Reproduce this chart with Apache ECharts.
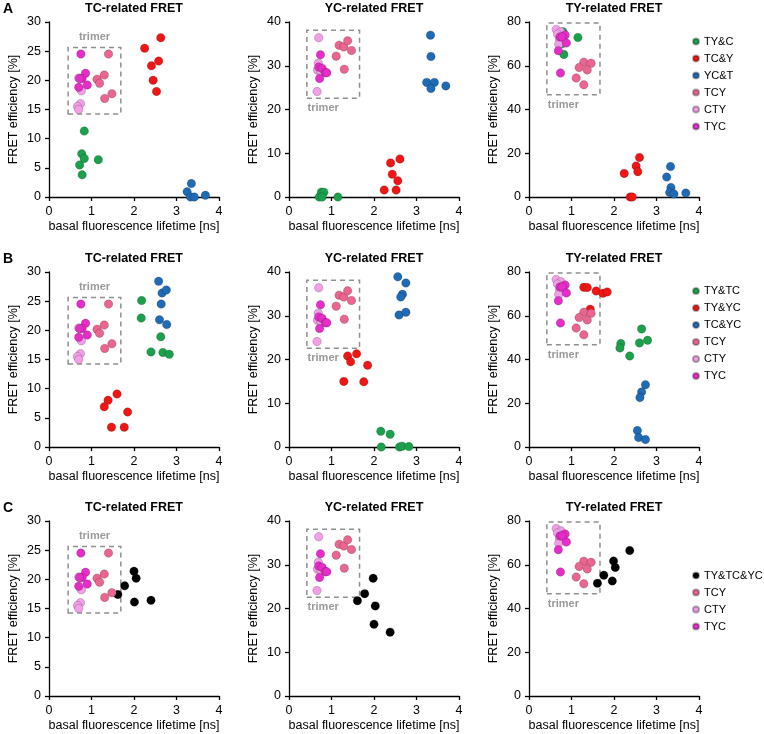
<!DOCTYPE html>
<html><head><meta charset="utf-8">
<script src="https://cdn.jsdelivr.net/npm/echarts@6/dist/echarts.min.js"></script>
<style>html,body{margin:0;padding:0;background:#fff}#c{width:764px;height:734px}</style>
</head><body><div id="c"></div>
<script>
// ---------- data ----------
const xTicks = [0, 1, 2, 3, 4];
const panelTitles = ['TC-related FRET', 'YC-related FRET', 'TY-related FRET'];
const rowLetters = ['A', 'B', 'C'];
const yMaxByPanel = [30, 40, 80];
const yStepByPanel = [5, 10, 20];

// trimer data (shared by all rows)
const tcTCY = [[1.40,24.5],[1.13,20.2],[1.30,20.9],[1.19,19.5],[1.48,17.7],[1.31,16.9]];
const tcCTY = [[0.70,20.4],[0.76,18.2],[0.74,16.0],[0.67,15.5],[0.70,15.0]];
const tcTYC = [[0.75,24.5],[0.86,21.2],[0.78,20.3],[0.72,20.3],[0.90,19.2],[0.70,18.8]];

const ycTCY = [[1.18,34.7],[1.29,34.3],[1.38,35.7],[1.47,33.5],[1.11,32.2],[1.30,29.2]];
const ycCTY = [[0.70,36.4],[0.69,30.6],[0.67,29.0],[0.75,28.7],[0.66,24.1]];
const ycTYC = [[0.74,32.5],[0.70,29.7],[0.78,29.4],[0.72,27.1],[0.86,28.4],[0.89,28.4]];

const tyTCY = [[1.29,61.6],[1.46,61.1],[1.18,59.2],[1.37,58.1],[1.11,54.4],[1.29,51.3]];
const tyCTY = [[0.64,76.6],[0.75,75.5],[0.67,74.5],[0.72,72.0],[0.70,69.8]];
const tyTYC = [[0.85,74.1],[0.73,73.2],[0.78,73.2],[0.88,70.4],[0.69,66.9],[0.74,56.7]];

// row A: pairs
const tcA_TYandC = [[0.83,11.3],[0.77,7.4],[0.83,6.6],[1.16,6.4],[0.72,5.5],[0.78,3.8]];
const tcA_TCandY = [[2.25,25.5],[2.63,27.3],[2.41,22.5],[2.58,23.3],[2.45,20.0],[2.53,18.1]];
const tcA_YCandT = [[3.35,2.3],[3.25,0.9],[3.33,0.0],[3.42,0.0],[3.68,0.3]];

const ycA_TYandC = [[0.71,0.0],[0.76,1.1],[0.82,1.1],[0.78,0.0],[1.15,0.0]];
const ycA_TCandY = [[2.24,1.6],[2.39,7.8],[2.43,5.2],[2.61,8.7],[2.56,3.7],[2.52,1.6]];
const ycA_YCandT = [[3.33,37.0],[3.34,32.1],[3.24,26.2],[3.42,26.2],[3.34,24.8],[3.69,25.4]];

const tyA_TYandC = [[0.80,75.5],[1.15,72.9],[0.79,70.2],[0.82,65.2],[0.74,73.0]];
const tyA_TCandY = [[2.24,10.8],[2.60,18.1],[2.52,14.2],[2.56,11.6],[2.38,0.0],[2.43,0.0]];
const tyA_YCandT = [[3.33,13.9],[3.24,9.1],[3.34,4.3],[3.31,2.1],[3.41,1.4],[3.69,1.8]];

// row B: pairs
const tcB_TYandTC = [[2.18,25.1],[2.17,22.1],[2.63,18.9],[2.40,16.3],[2.68,16.2],[2.83,15.9]];
const tcB_TYandYC = [[1.60,9.1],[1.39,8.0],[1.30,6.9],[1.85,6.0],[1.47,3.4],[1.77,3.4]];
const tcB_TCandYC = [[2.58,28.4],[2.66,26.4],[2.76,26.9],[2.64,24.5],[2.60,21.8],[2.77,21.0]];

const ycB_TYandTC = [[2.16,3.6],[2.38,2.9],[2.17,0.0],[2.60,0.0],[2.66,0.2],[2.82,0.1]];
const ycB_TYandYC = [[1.38,20.8],[1.59,21.3],[1.45,19.5],[1.85,18.7],[1.29,15.0],[1.76,14.9]];
const ycB_TCandYC = [[2.56,38.9],[2.75,37.5],[2.67,34.9],[2.63,34.3],[2.59,30.2],[2.75,30.8]];

const tyB_TYandTC = [[2.65,54.0],[2.79,48.8],[2.60,47.6],[2.16,47.3],[2.14,45.3],[2.37,41.6]];
const tyB_TYandYC = [[1.29,73.0],[1.37,72.9],[1.58,71.3],[1.74,70.3],[1.84,70.9],[1.44,63.0]];
const tyB_TCandYC = [[2.74,28.5],[2.65,25.2],[2.61,22.6],[2.55,7.5],[2.58,4.3],[2.74,3.4]];

// row C: all three
const tcC_All = [[2.00,21.4],[2.05,20.2],[1.78,18.9],[1.62,17.4],[2.01,16.1],[2.40,16.4]];
const ycC_All = [[1.98,26.9],[1.78,23.4],[1.61,21.8],[2.03,20.6],[2.00,16.4],[2.38,14.6]];
const tyC_All = [[2.37,66.5],[1.99,61.7],[2.03,58.8],[1.76,55.2],[1.96,52.6],[1.61,51.5]];

const rowPairNames = [['TY&C','TC&Y','YC&T'], ['TY&TC','TY&YC','TC&YC'], ['TY&TC&YC']];
const rowPairData = [
  [[tcA_TYandC, tcA_TCandY, tcA_YCandT], [ycA_TYandC, ycA_TCandY, ycA_YCandT], [tyA_TYandC, tyA_TCandY, tyA_YCandT]],
  [[tcB_TYandTC, tcB_TYandYC, tcB_TCandYC], [ycB_TYandTC, ycB_TYandYC, ycB_TCandYC], [tyB_TYandTC, tyB_TYandYC, tyB_TCandYC]],
  [[tcC_All], [ycC_All], [tyC_All]]
];
const trimerNames = ['TCY', 'CTY', 'TYC'];
const trimerData = [[tcTCY, tcCTY, tcTYC], [ycTCY, ycCTY, ycTYC], [tyTCY, tyCTY, tyTYC]];
const trimerBox = [[[0.45,14.25],[1.69,25.65]], [[0.42,22.6],[1.66,38.1]], [[0.42,46.8],[1.67,79.5]]];

// ---------- styling ----------
const FONT = '"Liberation Sans", Arial, sans-serif';
const colorOf = {
  'TY&C':'#1ba14c','TC&Y':'#f01616','YC&T':'#1f6bb5',
  'TY&TC':'#1ba14c','TY&YC':'#f01616','TC&YC':'#1f6bb5',
  'TY&TC&YC':'#000000',
  'TCY':'#ea6690','CTY':'#f29ee8','TYC':'#e62dc8'
};
const colLeft = [49, 289, 529];
const rowTop = [22, 272, 521];
const GW = 170, GH = 175;

const grid = [], xAxis = [], yAxis = [], series = [], title = [];
let gi = 0;
for (let r = 0; r < 3; r++) {
  title.push({text: rowLetters[r], left: 3, top: rowTop[r] - 20, padding: 0,
    textStyle: {fontFamily: FONT, fontSize: 14, fontWeight: 'bold', color: '#000'}});
  for (let c = 0; c < 3; c++) {
    grid.push({left: colLeft[c], top: rowTop[r], width: GW, height: GH});
    title.push({text: panelTitles[c], left: colLeft[c] + GW / 2, top: rowTop[r] - 20, padding: 0,
      textAlign: 'center',
      textStyle: {fontFamily: FONT, fontSize: 12.5, fontWeight: 'bold', color: '#000'}});
    const axLine = {show: true, onZero: false, lineStyle: {color: '#000', width: 1.3}};
    xAxis.push({gridIndex: gi, type: 'value', min: xTicks[0], max: xTicks[xTicks.length - 1], interval: 1,
      axisLine: axLine, axisTick: {show: true, length: 4, lineStyle: {color: '#000', width: 1.3}},
      splitLine: {show: false},
      axisLabel: {margin: 8, fontFamily: FONT, fontSize: 12.5, color: '#000'},
      name: 'basal fluorescence lifetime [ns]', nameLocation: 'middle', nameGap: 23,
      nameTextStyle: {fontFamily: FONT, fontSize: 12.5, color: '#000'}});
    yAxis.push({gridIndex: gi, type: 'value', min: 0, max: yMaxByPanel[c], interval: yStepByPanel[c],
      axisLine: axLine, axisTick: {show: true, length: 4, lineStyle: {color: '#000', width: 1.3}},
      splitLine: {show: false},
      axisLabel: {margin: 8, fontFamily: FONT, fontSize: 12.5, color: '#000'},
      name: 'FRET efficiency [%]', nameLocation: 'middle', nameGap: 29,
      nameTextStyle: {fontFamily: FONT, fontSize: 12.5, color: '#000'}});
    const names = rowPairNames[r].concat(trimerNames);
    const datas = rowPairData[r][c].concat(trimerData[c]);
    names.forEach((nm, k) => {
      const s = {
        type: 'scatter', name: nm, xAxisIndex: gi, yAxisIndex: gi,
        data: datas[k], symbol: 'circle', symbolSize: 8.5,
        itemStyle: {color: colorOf[nm], borderColor: 'rgba(0,0,0,0.3)', borderWidth: 0.6, opacity: 1},
        emphasis: {disabled: true}, animation: false
      };
      if (k === 0) {
        s.markArea = {
          silent: true,
          itemStyle: {color: 'rgba(0,0,0,0)', borderColor: '#8f8f8f', borderWidth: 1.5, borderType: [5, 4]},
          label: {show: true, formatter: 'trimer', position: c === 0 ? 'top' : 'bottom',
            distance: 4, offset: c === 0 ? [0, 0] : [-10, 0],
            fontFamily: FONT, fontSize: 11, fontWeight: 'bold', color: '#999'},
          data: [[{coord: trimerBox[c][0]}, {coord: trimerBox[c][1]}]]
        };
      }
      series.push(s);
    });
    gi++;
  }
}

const legendTops = [33, 282.5, 567];
const legend = legendTops.map((t, r) => ({
  data: rowPairNames[r].concat(trimerNames).map(n => ({name: n, icon: 'circle'})),
  orient: 'vertical', left: 692, top: t, padding: 0, itemGap: 0,
  itemWidth: 6, itemHeight: 6, selectedMode: false,
  textStyle: {fontFamily: FONT, fontSize: 11, color: '#000', lineHeight: 17}
}));

const chart = echarts.init(document.getElementById('c'), null, {renderer: 'canvas'});
chart.setOption({animation: false, backgroundColor: '#fff', title, grid, xAxis, yAxis, series, legend});
</script></body></html>
